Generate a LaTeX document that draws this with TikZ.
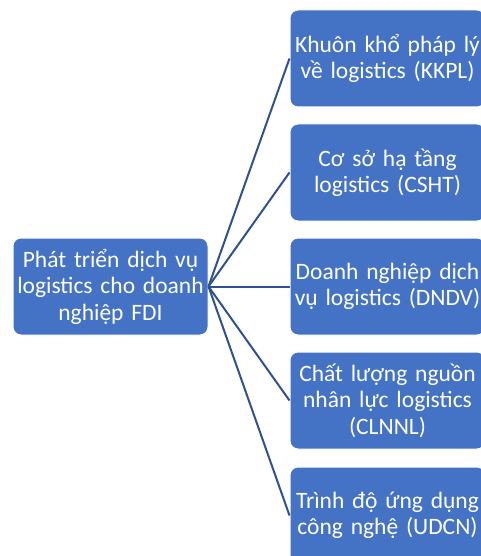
\documentclass[tikz,border=0pt]{standalone}
\usepackage{fontspec}
\setmainfont{Carlito}
\definecolor{boxblue}{HTML}{4472C4}
\definecolor{linkblue}{HTML}{2F528F}
\begin{document}
\begin{tikzpicture}[x=1pt,y=-1pt,
  box/.style={rectangle, rounded corners=8pt, fill=boxblue, draw=white, line width=1pt,
    minimum width=195pt, minimum height=97pt, text width=192pt, align=center,
    text=white, font=\fontsize{23.5}{26.5}\selectfont, inner sep=1pt},
  link/.style={draw=linkblue, line width=2pt}]
\useasboundingbox (0,0) rectangle (481,556);
\clip (0,0) rectangle (481,556);
\node[box] (root) at (110.5,286.5) {Phát triển dịch vụ\\logistics cho doanh\\nghiệp FDI};
\node[box] (a) at (387.5,58.5) {Khuôn khổ pháp lý\\về logistics (KKPL)};
\node[box] (b) at (387.5,172.5) {Cơ sở hạ tầng\\logistics (CSHT)};
\node[box] (c) at (387.5,286.5) {Doanh nghiệp dịch\\vụ logistics (DNDV)};
\node[box] (d) at (387.5,400.5) {Chất lượng nguồn\\nhân lực logistics\\(CLNNL)};
\node[box] (e) at (387.5,515.5) {Trình độ ứng dụng\\công nghệ (UDCN)};
\foreach \t in {a,b,c,d,e} \draw[link] (root.east) -- (\t.west);
\end{tikzpicture}
\end{document}
